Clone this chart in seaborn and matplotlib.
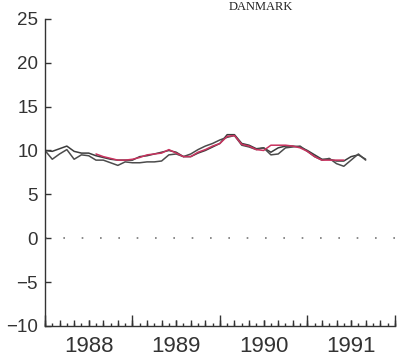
import numpy as np
import pandas as pd
import seaborn as sns
import matplotlib
matplotlib.use("Agg")
import matplotlib.pyplot as plt
from matplotlib.ticker import FixedLocator, MultipleLocator

# ---- data (monthly, Jan 1988 .. Sep 1991) ----
start_year = 1988
series_a = [10.0, 9.9, 10.2, 10.5, 9.9, 9.7, 9.7, 9.4, 9.2, 9.0, 8.9, 8.9,
            8.9, 9.3, 9.4, 9.6, 9.8, 10.0, 9.8, 9.3, 9.3, 9.7, 10.0, 10.4,
            10.8, 11.8, 11.8, 10.8, 10.6, 10.2, 10.3, 9.8, 10.3, 10.5, 10.5, 10.4,
            10.0, 9.5, 9.0, 9.0, 8.8, 8.8, 9.3, 9.5, 9.0]
series_b = [10.0, 9.0, 9.6, 10.1, 9.0, 9.5, 9.4, 8.9, 8.9, 8.6, 8.3, 8.7,
            8.6, 8.6, 8.7, 8.7, 8.8, 9.5, 9.6, 9.3, 9.6, 10.1, 10.5, 10.8,
            11.2, 11.5, 11.7, 10.6, 10.4, 10.1, 10.3, 9.5, 9.6, 10.3, 10.4, 10.5,
            9.9, 9.3, 8.9, 9.1, 8.5, 8.2, 8.9, 9.6, 8.9]
red_start = 7
series_red = [9.6, 9.3, 9.1, 8.9, 8.9, 9.0, 9.2, 9.5, 9.6, 9.7, 10.1, 9.7,
              9.3, 9.3, 9.8, 10.1, 10.5, 10.8, 11.6, 11.7, 10.7, 10.5, 10.1,
              10.0, 10.6, 10.6, 10.6, 10.5, 10.3, 9.9, 9.3, 8.9, 8.9, 8.9, 8.9]
year_labels = ["1988", "1989", "1990", "1991"]
title = "DANMARK"

def to_frame(vals, offset, name):
    m = np.arange(len(vals)) + offset
    return pd.DataFrame({"t": start_year + m / 12.0, "v": vals, "s": name})

df = pd.concat([to_frame(series_a, 0, "a"),
                to_frame(series_b, 0, "b"),
                to_frame(series_red, red_start, "r")], ignore_index=True)

sns.set_style("white")
plt.rcParams["font.family"] = ["Liberation Sans Narrow", "Liberation Sans", "DejaVu Sans"]

fig = plt.figure(figsize=(3.98, 3.58), dpi=100)
ax = fig.add_axes([0.113, 0.0894, 0.879, 0.858])

palette = {"a": "#3c3c3c", "b": "#4c4c4c", "r": "#c8335f"}
sns.lineplot(data=df, x="t", y="v", hue="s", palette=palette, ax=ax,
             legend=False, linewidth=1.1, estimator=None, sort=False)

ax.axhline(0, color="#777777", lw=1.2, ls=(0, (1, 10)))

ax.set_xlim(1988, 1992)
ax.set_ylim(-10, 25)
ax.set_xlabel("")
ax.set_ylabel("")

for s in ["top", "right"]:
    ax.spines[s].set_visible(False)
for s in ["left", "bottom"]:
    ax.spines[s].set_color("#333333")
    ax.spines[s].set_linewidth(1.0)

ax.yaxis.set_major_locator(MultipleLocator(5))
ax.tick_params(axis="y", left=True, direction="in", length=4, width=1.0,
               color="#333333", pad=5, labelsize=13.5, labelcolor="#333333")

mid_years = [start_year + i + 0.5 for i in range(len(year_labels))]
ax.xaxis.set_major_locator(FixedLocator(mid_years))
ax.set_xticklabels(year_labels, fontfamily=["Liberation Sans", "DejaVu Sans"])
ax.xaxis.set_minor_locator(MultipleLocator(1 / 12))
ax.tick_params(axis="x", which="major", bottom=True, direction="in", length=4.5,
               width=1.0, color="#333333", pad=7, labelsize=16,
               labelcolor="#333333")
ax.tick_params(axis="x", which="minor", bottom=True, direction="in", length=2.5,
               width=1.0, color="#333333")

# year-boundary tall ticks
sec = ax.secondary_xaxis("bottom")
sec.set_xticks([start_year + i for i in range(5)])
sec.set_xticklabels([])
sec.tick_params(bottom=True, direction="in", length=8, width=1.0, color="#333333")
sec.spines["bottom"].set_visible(False)

# bimonthly medium ticks
sec2 = ax.secondary_xaxis("bottom")
sec2.set_xticks([start_year + k / 12 for k in range(0, 49, 2)])
sec2.set_xticklabels([])
sec2.tick_params(bottom=True, direction="in", length=4.5, width=1.0, color="#333333")
sec2.spines["bottom"].set_visible(False)

fig.text(0.655, 0.998, title, ha="center", va="top", fontsize=9,
         family=["Liberation Serif", "DejaVu Serif"], color="#222222")

fig.savefig("out.png", dpi=100, facecolor="white")
